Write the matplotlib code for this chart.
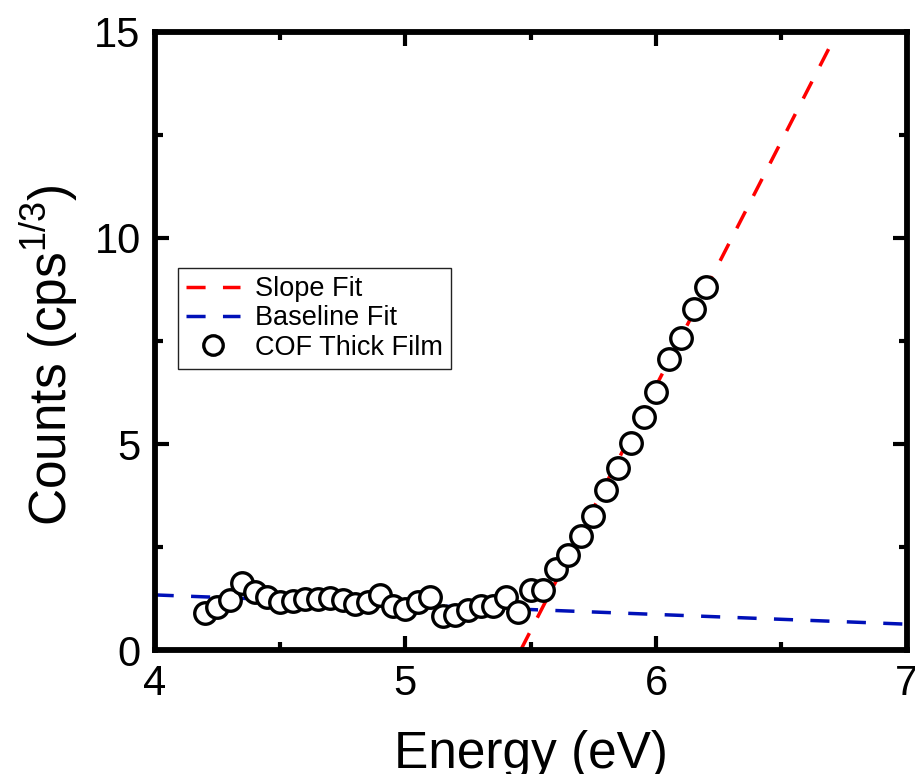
import numpy as np
import matplotlib
matplotlib.use('Agg')
import matplotlib.pyplot as plt
from matplotlib.ticker import MultipleLocator

plt.rcParams['font.family'] = ['Liberation Sans', 'DejaVu Sans']
plt.rcParams['mathtext.fontset'] = 'custom'
plt.rcParams['mathtext.rm'] = 'Liberation Sans'
plt.rcParams['mathtext.default'] = 'regular'

# measured data (COF thick film)
energy = [4.20, 4.25, 4.30, 4.35, 4.40, 4.45, 4.50, 4.55, 4.60, 4.65,
          4.70, 4.75, 4.80, 4.85, 4.90, 4.95, 5.00, 5.05, 5.10, 5.15,
          5.20, 5.25, 5.30, 5.35, 5.40, 5.45, 5.50, 5.55, 5.60, 5.65,
          5.70, 5.75, 5.80, 5.85, 5.90, 5.95, 6.00, 6.05, 6.10, 6.15, 6.20]
counts = [0.90, 1.05, 1.21, 1.62, 1.42, 1.28, 1.16, 1.19, 1.25, 1.25,
          1.27, 1.21, 1.13, 1.17, 1.33, 1.07, 1.01, 1.16, 1.28, 0.83,
          0.85, 0.97, 1.07, 1.07, 1.29, 0.93, 1.47, 1.46, 1.98, 2.31,
          2.77, 3.26, 3.88, 4.43, 5.02, 5.66, 6.25, 7.06, 7.56, 8.27, 8.82]

# fit lines (end points)
slope_x = [5.46, 6.85]
slope_y = [0.0, 16.5]
base_x = [4.0, 7.0]
base_y = [1.34, 0.63]

fig = plt.figure(figsize=(9.15, 7.74), dpi=100)
ax = fig.add_axes([0.169, 0.160, 0.822, 0.799])

dash = (0, (5.5, 5))
ax.plot(slope_x, slope_y, color='#ff0000', lw=2.5, ls=dash, label='Slope Fit', zorder=2)
ax.plot(base_x, base_y, color='#0010b8', lw=2.5, ls=dash, label='Baseline Fit', zorder=2)
ax.plot(energy, counts, 'o', ms=15.5, mfc='white', mec='black', mew=2.4,
        label='COF Thick Film', zorder=3)

ax.set_xlim(4, 7)
ax.set_ylim(0, 15)
ax.xaxis.set_major_locator(MultipleLocator(1))
ax.xaxis.set_minor_locator(MultipleLocator(0.5))
ax.yaxis.set_major_locator(MultipleLocator(5))
ax.yaxis.set_minor_locator(MultipleLocator(2.5))
ax.tick_params(which='both', direction='in', top=True, right=True, width=3)
ax.tick_params(which='major', length=10, labelsize=30, pad=10)
ax.tick_params(which='minor', length=6)
for s in ax.spines.values():
    s.set_linewidth(4.2)

ax.set_xlabel('Energy (eV)', fontsize=37, va='baseline')
ax.set_ylabel('Counts (cps$^{1/3}$)', fontsize=37, va='baseline', rotation_mode='anchor')
ax.xaxis.set_label_coords(0.5, -0.191)
ax.yaxis.set_label_coords(-0.117, 0.4765)

leg = ax.legend(loc='upper left', bbox_to_anchor=(0.031, 0.618), borderaxespad=0,
                fontsize=19.5, handlelength=2.0, numpoints=1, fancybox=False,
                framealpha=1, edgecolor='#222222', labelspacing=0.12,
                borderpad=0.3, handletextpad=0.55)
leg.get_frame().set_linewidth(1.0)
leg.legend_handles[2].set_markersize(14)

fig.savefig('out.png', dpi=100)
